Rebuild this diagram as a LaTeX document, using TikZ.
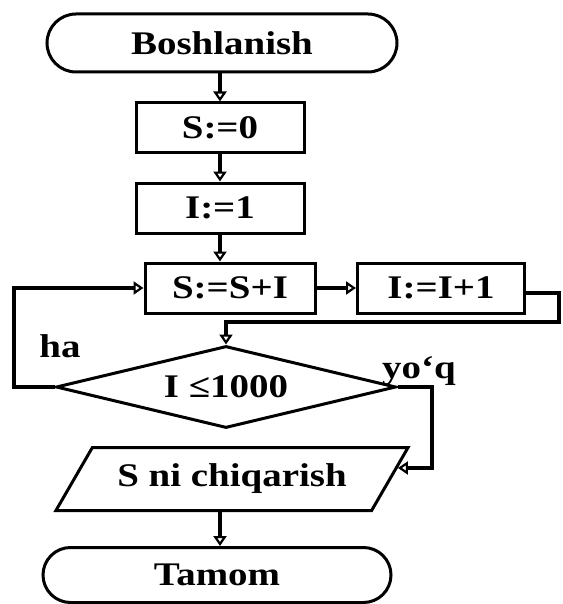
\documentclass[tikz,border=0pt]{standalone}
\usepackage{fontspec}
\setmainfont{Liberation Serif}[FakeStretch=1.18]
\usetikzlibrary{shapes.misc,shapes.geometric,arrows.meta,calc}
\begin{document}
\begin{tikzpicture}[x=1pt,y=-1pt,
  every node/.style={font=\fontsize{33}{35}\selectfont\bfseries},
  box/.style={draw,line width=3pt,rectangle,inner sep=0pt},
  term/.style={draw,line width=3pt,rounded rectangle,inner sep=0pt},
  arr/.style={line width=4pt,-{Triangle[open,length=10pt,width=13pt,line width=2.2pt]}},
  ln/.style={line width=4pt}]
\useasboundingbox (0,0) rectangle (562,604);
\node[term, minimum width=350pt, minimum height=58pt] (start) at (222,43) {Boshlanish};
\node[box, minimum width=168pt, minimum height=50pt] (s0) at (220,128) {S:=0};
\node[box, minimum width=168pt, minimum height=50pt] (i1) at (220,208) {I:=1};
\node[box, minimum width=170pt, minimum height=50pt] (ssi) at (230,288) {S:=S+I};
\node[box, minimum width=167pt, minimum height=50pt] (ii) at (441,288) {I:=I+1};
\node[diamond, draw, line width=3pt, inner sep=0pt, aspect=4, minimum width=340pt, minimum height=82pt] (dec) at (226,387) {I ≤1000};
\node[trapezium, draw, line width=3pt, inner sep=0pt, trapezium left angle=45, trapezium right angle=135, trapezium stretches=true, minimum width=353pt, minimum height=63pt] (out) at (232,479) {S ni chiqarish};
\node[term, minimum width=348pt, minimum height=55pt] (end) at (217,575) {Tamom};
\node (ha) at (60,346) {ha};
\node (yoq) at (419,371) {yo‘q};
\coordinate (lx) at (14,0);
\coordinate (rx) at (432,0);
\coordinate (rr) at (559,0);
\coordinate (ry) at (0,322);
\coordinate (outin) at ($(out.bottom right corner)!0.667!(out.top right corner)$);
\draw[arr] (start.south -| s0.north) -- (s0.north);
\draw[arr] (s0) -- (i1);
\draw[arr] (i1.south) -- (i1.south |- ssi.north);
\draw[arr] (ssi.east) -- (ssi.east -| ii.west);
\draw[arr] ($(ii.east)+(0,5)$) -- (rr |- {$(ii.east)+(0,5)$}) -- (rr |- ry) -| (dec.north);
\draw[arr] (dec.west) -- (lx |- dec.west) |- (ssi.west);
\draw[arr] (dec.east) -- (rx |- dec.east) |- (outin);
\draw[arr] (out.south -| s0.south) -- (end.north -| s0.south);
\end{tikzpicture}
\end{document}
